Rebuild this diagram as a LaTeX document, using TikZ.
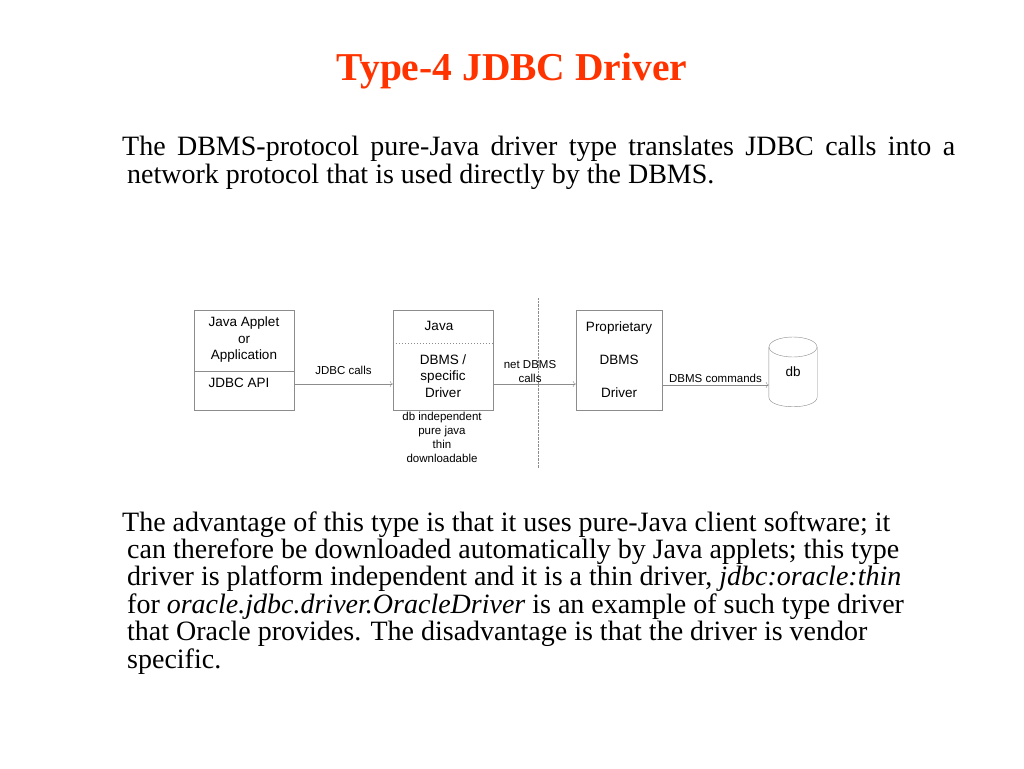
\documentclass[tikz,border=0pt]{standalone}
\usepackage{fontspec}
\setmainfont{Liberation Serif}
\setsansfont{Liberation Sans}
\usepackage{tikz}
\usetikzlibrary{shapes,arrows,arrows.meta}

\definecolor{titlered}{RGB}{255,51,0}
\definecolor{linegray}{RGB}{140,140,140}

\begin{document}
\begin{tikzpicture}[x=1pt,y=-1pt,
    box/.style={draw=linegray, minimum width=100pt, minimum height=100pt, inner sep=0pt},
    boxtxt/.style={font=\sffamily\fontsize{13.5}{16.5}\selectfont, align=center, inner sep=0pt},
    lbl/.style={font=\sffamily\fontsize{11.5}{14}\selectfont, align=center, inner sep=0pt},
    conn/.style={draw=linegray, -{To[length=3pt,width=6pt]}},
    body/.style={font=\fontsize{28}{27.4}\selectfont, align=left, anchor=base west, inner sep=0pt}]
			 \useasboundingbox (0,0) rectangle (1024,768);
			 % title and text (base = last line)
			 \node[font=\fontsize{39.5}{41}\selectfont\bfseries, text=titlered, anchor=base, inner sep=0pt] (title) at (512,80) {Type-4 JDBC Driver};
			 \node[body] (intro) at (122,183) {\makebox[833pt][s]{The DBMS-protocol pure-Java driver type translates JDBC calls into a}\\
			 \hspace*{5pt}network protocol that is used directly by the DBMS.};
			 \node[body] (advantage) at (122,668) {The advantage of this type is that it uses pure-Java client software; it\\
			 \hspace*{5pt}can therefore be downloaded automatically by Java applets; this type\\
			 \hspace*{5pt}driver is platform independent and it is a thin driver, \textit{jdbc:oracle:thin}\\
			 \hspace*{5pt}for \textit{oracle.jdbc.driver.OracleDriver} is an example of such type driver\\
			 \hspace*{5pt}that Oracle provides. The disadvantage is that the driver is vendor\\
			 \hspace*{5pt}specific.};
			 % boxes
			 \node[box] (applet) at (244,360) {};
			 \node[box] (driver) at (443,360) {};
			 \node[box, minimum width=86pt] (proprietary) at (619,360) {};
			 \draw[linegray] ([yshift=-11pt]applet.west) -- ([yshift=-11pt]applet.east);
			 \draw[linegray, dash pattern=on 1.5pt off 1.5pt] ([yshift=17pt]driver.west) -- ([yshift=17pt]driver.east);
			 \node[boxtxt] (applettxt) at (244,340) {Java Applet\\or\\Application};
			 \node[boxtxt] (api) at (239,383) {JDBC API};
			 \node[boxtxt] (java) at (439,326) {Java};
			 \node[boxtxt] (specific) at (443,376) {DBMS /\\specific\\Driver};
			 \node[boxtxt, font=\sffamily\fontsize{13.5}{33}\selectfont] (proptxt) at (619,360) {Proprietary\\DBMS\\Driver};
			 \node[lbl] (notes) at (442,437) {db independent\\pure java\\thin\\downloadable};
			 % database
			 \node[boxtxt, minimum width=48pt, minimum height=70pt] (db) at (793,372) {db};
			 \draw[linegray] (793,347) ellipse [x radius=24, y radius=10];
			 \draw[linegray] (db.west |- 0,347) -- (db.west |- 0,397) .. controls (769,410) and (817,410) .. (db.east |- 0,397) -- (db.east |- 0,347);
			 % network border
			 \coordinate (netTop) at (538,298);
			 \coordinate (netBot) at (538,468);
			 \draw[linegray, densely dotted] (netTop) -- (netBot);
			 % calls
			 \draw[conn] ([yshift=-24pt]applet.east) -- node[lbl, above=9pt] {JDBC calls} ([yshift=-24pt]driver.west);
			 \draw[conn] ([yshift=-24pt]driver.east) -- ([yshift=-24pt]proprietary.west);
			 \node[lbl] (netcalls) at (530,372) {net DBMS\\calls};
			 \draw[conn] ([yshift=-25pt]proprietary.east) -- node[lbl, above=2pt] {DBMS commands} ([yshift=-13pt]db.west);
		\end{tikzpicture}
\end{document}
